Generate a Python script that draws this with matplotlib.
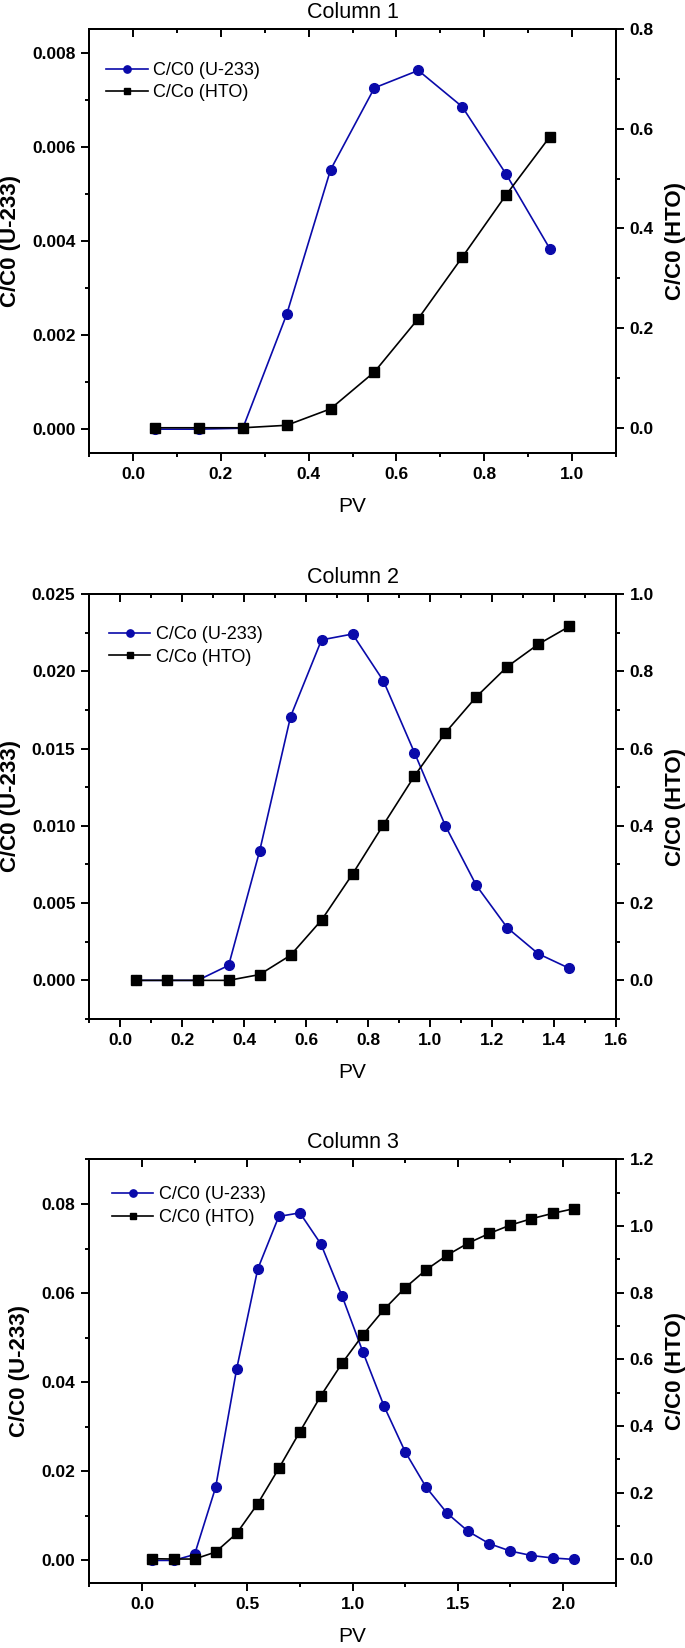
import matplotlib
matplotlib.use("Agg")
import matplotlib.pyplot as plt
from matplotlib.ticker import MultipleLocator, FormatStrFormatter
from matplotlib.lines import Line2D

plt.rcParams['font.family'] = ['Liberation Sans', 'DejaVu Sans']

# ---- data ----
pv1 = [0.05, 0.15, 0.25, 0.35, 0.45, 0.55, 0.65, 0.75, 0.85, 0.95]
u1 = [0.0, 0.0, 0.00002, 0.00244, 0.00551, 0.00725, 0.00762, 0.00685, 0.00542, 0.00383]
hto1 = [0.0, 0.0, 0.0, 0.005, 0.038, 0.112, 0.219, 0.342, 0.467, 0.584]

pv2 = [0.05, 0.15, 0.25, 0.35, 0.45, 0.55, 0.65, 0.75, 0.85, 0.95,
       1.05, 1.15, 1.25, 1.35, 1.45]
u2 = [0.0, 0.0, 0.0, 0.00097, 0.00836, 0.01707, 0.02203, 0.02241, 0.01937,
      0.01474, 0.0100, 0.00614, 0.0034, 0.00172, 0.00078]
hto2 = [0.0, 0.0, 0.0, 0.0, 0.015, 0.065, 0.156, 0.275, 0.403, 0.529,
        0.641, 0.734, 0.812, 0.870, 0.916]

pv3 = [0.05, 0.15, 0.25, 0.35, 0.45, 0.55, 0.65, 0.75, 0.85, 0.95, 1.05,
       1.15, 1.25, 1.35, 1.45, 1.55, 1.65, 1.75, 1.85, 1.95, 2.05]
u3 = [0.0, 0.0, 0.00133, 0.0164, 0.0430, 0.0654, 0.0772, 0.0780, 0.0710,
      0.0594, 0.0467, 0.0346, 0.0244, 0.0164, 0.01056, 0.0065, 0.00375,
      0.0021, 0.0011, 0.00055, 0.00023]
hto3 = [0.002, 0.001, 0.001, 0.022, 0.078, 0.167, 0.273, 0.383, 0.491, 0.588,
        0.674, 0.750, 0.815, 0.869, 0.913, 0.949, 0.978, 1.003, 1.022, 1.038,
        1.052]

titles = ["Column 1", "Column 2", "Column 3"]
u_labels = ["C/C0 (U-233)", "C/Co (U-233)", "C/C0 (U-233)"]
hto_labels = ["C/Co (HTO)", "C/Co (HTO)", "C/C0 (HTO)"]

BLUE = '#0a0aaa'
W, H = 685, 1648

fig = plt.figure(figsize=(W / 100, H / 100), dpi=100)

# pixel rows of each plot box, axis ranges, tick steps and legend anchor
panels = [
    dict(px=(29, 452.7), x=pv1, u=u1, h=hto1, xlim=(-0.1, 1.1), xmaj=0.2, xmin=0.1,
         ylim=(-0.0005, 0.0085), ymaj=0.002, ymin=0.001, yfmt='%.3f',
         rlim=(-0.05, 0.8), leg=(0.032, 0.922)),
    dict(px=(594, 1019), x=pv2, u=u2, h=hto2, xlim=(-0.1, 1.6), xmaj=0.2, xmin=0.1,
         ylim=(-0.0025, 0.025), ymaj=0.005, ymin=0.0025, yfmt='%.3f',
         rlim=(-0.1, 1.0), leg=(0.037, 0.924)),
    dict(px=(1159.4, 1582.7), x=pv3, u=u3, h=hto3, xlim=(-0.25, 2.25), xmaj=0.5, xmin=0.25,
         ylim=(-0.005, 0.09), ymaj=0.02, ymin=0.01, yfmt='%.2f',
         rlim=(-0.07, 1.2), leg=(0.043, 0.936)),
]

left_px, right_px = 89.3, 615.7

for i, p in enumerate(panels):
    top, bot = p['px']
    ax = fig.add_axes([left_px / W, 1 - bot / H, (right_px - left_px) / W, (bot - top) / H])
    ax2 = ax.twinx()

    ax.plot(p['x'], p['u'], color=BLUE, marker='o', ms=7, lw=1.2)
    ax2.plot(p['x'], p['h'], color='black', marker='s', ms=6.5, lw=1.2)

    ax.set_xlim(*p['xlim'])
    ax.set_ylim(*p['ylim'])
    ax2.set_ylim(*p['rlim'])

    ax.xaxis.set_major_locator(MultipleLocator(p['xmaj']))
    ax.xaxis.set_minor_locator(MultipleLocator(p['xmin']))
    ax.xaxis.set_major_formatter(FormatStrFormatter('%.1f'))
    ax.yaxis.set_major_locator(MultipleLocator(p['ymaj']))
    ax.yaxis.set_minor_locator(MultipleLocator(p['ymin']))
    ax.yaxis.set_major_formatter(FormatStrFormatter(p['yfmt']))
    ax2.yaxis.set_major_locator(MultipleLocator(0.2))
    ax2.yaxis.set_minor_locator(MultipleLocator(0.1))
    ax2.yaxis.set_major_formatter(FormatStrFormatter('%.1f'))

    for a in (ax, ax2):
        for s in a.spines.values():
            s.set_linewidth(1.4)
        a.tick_params(which='major', direction='out', length=5.5, width=1.4,
                      pad=4.5, labelsize=12.5)
        a.tick_params(which='minor', direction='out', length=3, width=1.4)
    for lab in ax.get_xticklabels() + ax.get_yticklabels() + ax2.get_yticklabels():
        lab.set_fontweight('bold')

    # inward ticks on the top spine, no labels
    sec = ax.secondary_xaxis('top')
    sec.xaxis.set_major_locator(MultipleLocator(p['xmaj']))
    sec.xaxis.set_minor_locator(MultipleLocator(p['xmin']))
    sec.tick_params(which='major', direction='in', length=5.5, width=1.4, labeltop=False)
    sec.tick_params(which='minor', direction='in', length=3, width=1.4)
    sec.spines['top'].set_linewidth(1.4)

    ax.set_title(titles[i], fontsize=15.5, pad=8)
    ax.set_ylabel("C/C0 (U-233)", fontsize=16, fontweight='bold', labelpad=8)
    ax2.set_ylabel("C/C0 (HTO)", fontsize=16, fontweight='bold', labelpad=8)
    ax.set_xlabel("PV", fontsize=15, labelpad=11)

    handles = [
        Line2D([], [], color=BLUE, marker='o', ms=7, lw=1.2),
        Line2D([], [], color='black', marker='s', ms=6.5, lw=1.2),
    ]
    ax2.legend(handles, [u_labels[i], hto_labels[i]], loc='upper left',
               bbox_to_anchor=p['leg'], frameon=False, borderpad=0,
               borderaxespad=0, handlelength=2.3, handletextpad=0.3,
               labelspacing=0.3, markerscale=0.75, fontsize=13)

fig.savefig("out.png", dpi=100)
